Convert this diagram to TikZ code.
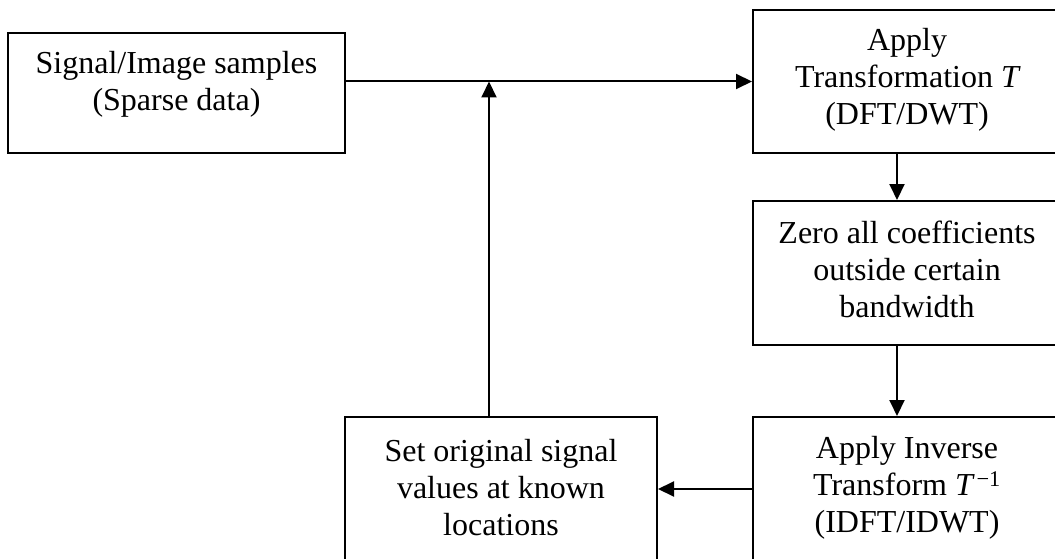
\documentclass[tikz,border=0pt]{standalone}
\usepackage{fontspec}
\setmainfont{Liberation Serif}
\usetikzlibrary{arrows.meta}
\tikzset{
  box/.style={draw, line width=2pt, rectangle, inner sep=0pt},
  txt/.style={align=center, inner sep=0pt, font=\fontsize{32}{37}\selectfont},
  arr/.style={line width=2pt, -{Triangle[length=16pt,width=15pt]}}
}
\begin{document}
\begin{tikzpicture}[x=1pt,y=-1pt]
\useasboundingbox (0,0) rectangle (1055,559);
\begin{scope}
\clip (0,0) rectangle (1055,559);
% boxes
\node[box, minimum width=337pt, minimum height=120pt] (A) at (176.5,93) {};
\node[box, minimum width=308pt, minimum height=143pt] (B) at (907,81.5) {};
\node[box, minimum width=308pt, minimum height=144pt] (C) at (907,273) {};
\node[box, minimum width=308pt, minimum height=144pt] (D) at (907,489) {};
\node[box, minimum width=312pt, minimum height=144pt] (E) at (501,489) {};
% box texts
\node[txt] (At) at (176.5,84) {Signal/Image samples\\(Sparse data)};
\node[txt] (Bt) at (907,80) {Apply\\Transformation {\itshape T}\\(DFT/DWT)};
\node[txt] (Ct) at (907,269) {Zero all coefficients\\outside certain\\bandwidth};
\node[txt] (Dt) at (907,488) {Apply Inverse\\Transform {\itshape T}\textsuperscript{\,−1}\\(IDFT/IDWT)};
\node[txt] (Et) at (501,488) {Set original signal\\values at known\\locations};
% connectors
\coordinate (J) at (489,81.5);
\coordinate (K) at (897,0);
\draw[arr] (A.east |- B.west) -- (B.west);
\draw[arr] (B.south -| K) -- (C.north -| K);
\draw[arr] (C.south -| K) -- (D.north -| K);
\draw[arr] (D.west) -- (E.east);
\draw[arr] (E.north -| J) -- (J);
\end{scope}
\end{tikzpicture}
\end{document}
